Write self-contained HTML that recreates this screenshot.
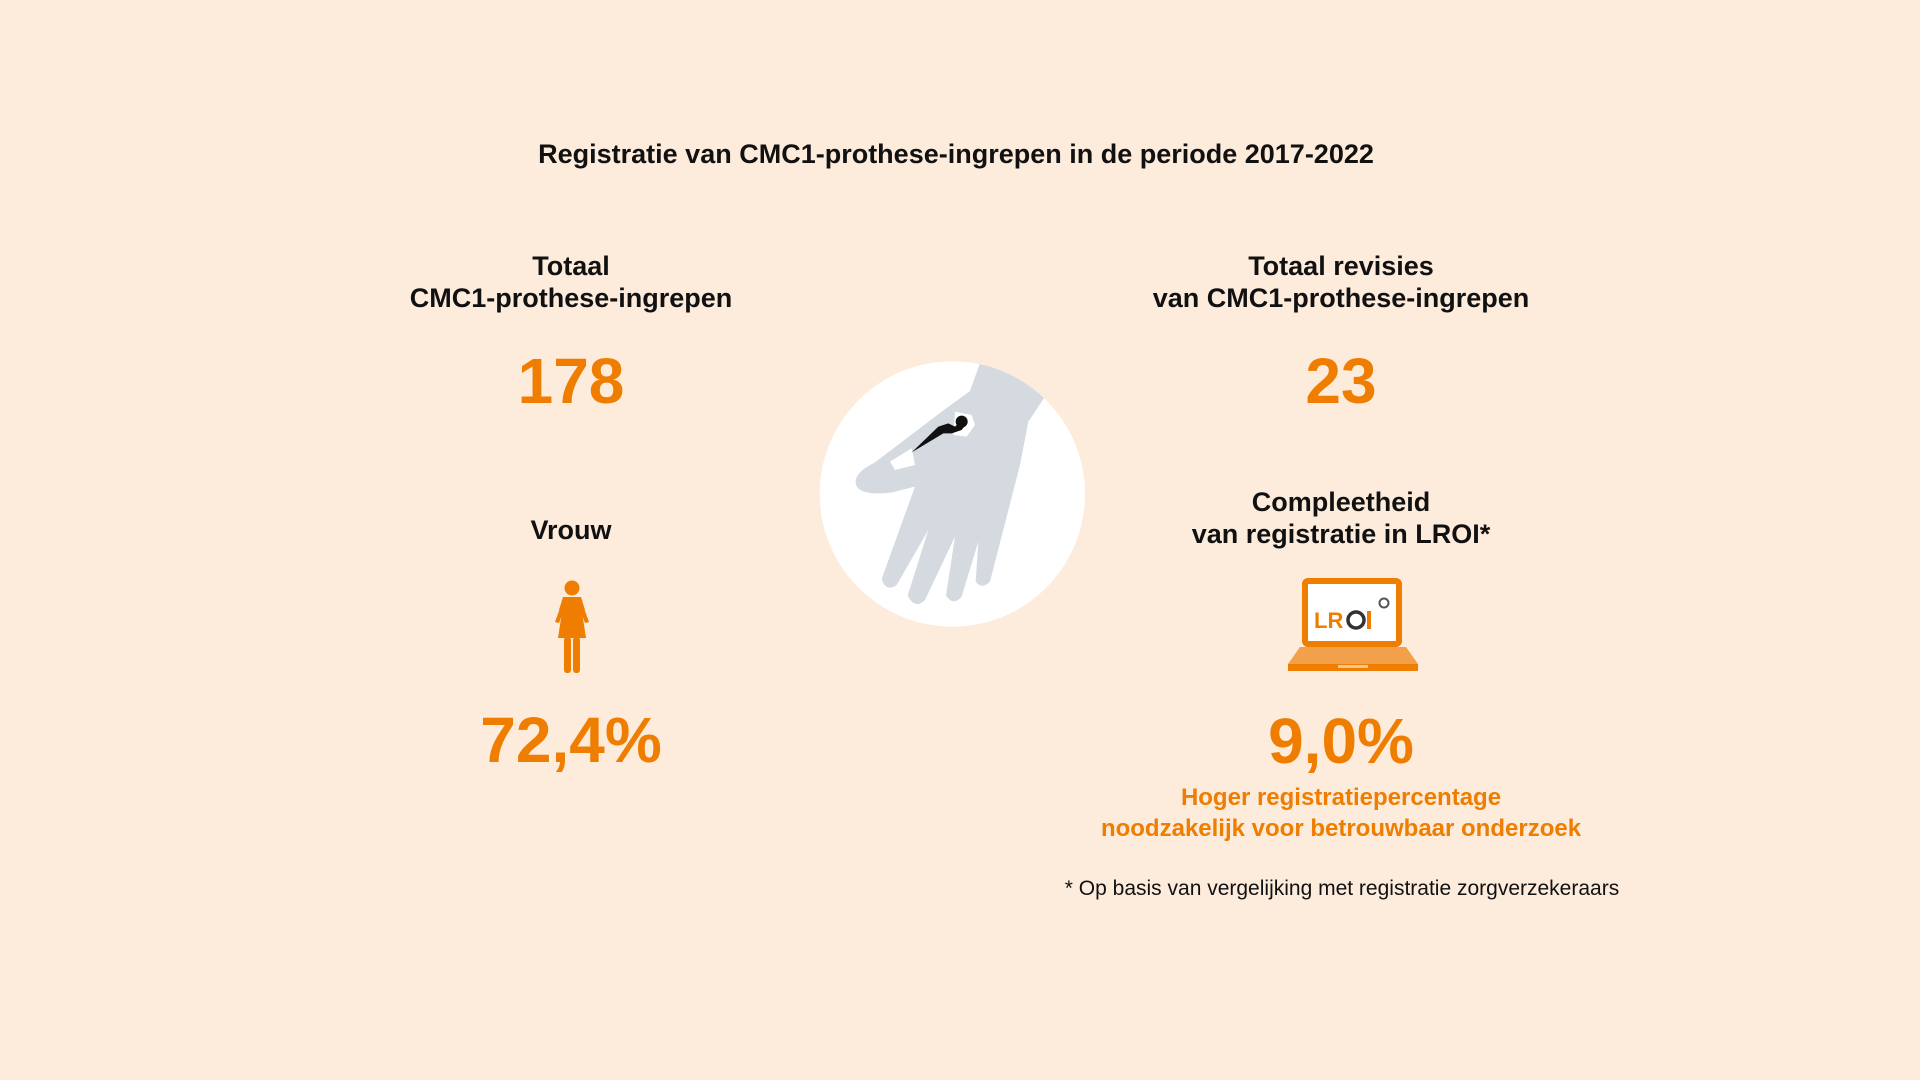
<!DOCTYPE html>
<html><head><meta charset="utf-8"><style>
body{margin:0;width:1920px;height:1080px;background:#fdebdc;font-family:"Liberation Sans",sans-serif;overflow:hidden;position:relative;color:#111}
.t{position:absolute;transform:translateX(-50%);white-space:nowrap;text-align:center;font-weight:bold}
.h{font-size:27px;line-height:32px}
.n{font-size:64px;color:#ef7d00;line-height:70px}
</style></head><body>
<div class="t" style="left:956px;top:139px;font-size:27px">Registratie van CMC1-prothese-ingrepen in de periode 2017-2022</div>

<div class="t h" style="left:571px;top:250px">Totaal<br>CMC1-prothese-ingrepen</div>
<div class="t n" style="left:571px;top:346px">178</div>
<div class="t h" style="left:571px;top:514px">Vrouw</div>
<svg style="position:absolute;left:548px;top:580px" width="48" height="93" viewBox="0 0 48 93">
<circle cx="24" cy="8" r="7.5" fill="#ef7d00"/>
<path d="M15,17 H33 L37,30 L34,32 L38,58 H10 L14,32 L11,30 Z" fill="#ef7d00"/>
<path d="M15,20 L7,42 L11,43 L18,24 Z M33,20 L41,42 L37,43 L30,24 Z" fill="#ef7d00"/>
<rect x="16" y="57" width="7" height="36" rx="3" fill="#ef7d00"/>
<rect x="25" y="57" width="7" height="36" rx="3" fill="#ef7d00"/>
</svg>
<div class="t n" style="left:571px;top:705px">72,4%</div>

<svg style="position:absolute;left:815px;top:355px" width="280" height="280" viewBox="0 0 840 840">
<defs><clipPath id="c"><circle cx="412" cy="417" r="398"/></clipPath></defs>
<circle cx="412" cy="417" r="398" fill="#fff"/>
<g clip-path="url(#c)">
<path d="M500,10 L700,110 L640,200 L615,330 L525,680 Q500,705 482,680 L490,560 L440,725 Q415,755 393,722 L420,545 L330,735 Q300,765 278,722 L340,525 L245,690 Q212,712 200,672 L300,395 L232,412 Q130,425 122,385 Q118,352 180,322 L380,170 L465,108 Z" fill="#d4dae0"/>
</g>
<path d="M225,320 L290,280 L300,330 L240,345 Z" fill="#fff"/>
<path d="M420,170 L470,180 L480,210 L455,245 L415,240 Z" fill="#fff"/>
<path d="M290,292 L370,215 L400,205 L420,215 L440,195 L455,205 L440,225 L410,235 L385,235 Z" fill="#111"/>
<circle cx="440" cy="200" r="18" fill="#111"/>
</svg>

<div class="t h" style="left:1341px;top:250px">Totaal revisies<br>van CMC1-prothese-ingrepen</div>
<div class="t n" style="left:1341px;top:346px">23</div>
<div class="t h" style="left:1341px;top:486px">Compleetheid<br>van registratie in LROI*</div>
<svg style="position:absolute;left:1286px;top:578px" width="134" height="96" viewBox="0 0 134 96">
<rect x="19" y="3" width="94" height="63" rx="3" fill="#fff" stroke="#ef7d00" stroke-width="6"/>
<path d="M14,69 H120 L132,86 H2 Z" fill="#f2a04a"/>
<rect x="2" y="86" width="130" height="7" fill="#ef7d00"/>
<rect x="52" y="87" width="30" height="3" fill="#f7c48a"/>
<text x="28" y="50" font-family="Liberation Sans,sans-serif" font-weight="bold" font-size="22" fill="#ef7d00">LR</text>
<circle cx="70" cy="42" r="8" fill="none" stroke="#333" stroke-width="3.5"/>
<rect x="81" y="33" width="4" height="18" fill="#ef7d00"/>
<circle cx="98" cy="25" r="4.5" fill="none" stroke="#555" stroke-width="2"/>
</svg>
<div class="t n" style="left:1341px;top:706px">9,0%</div>
<div class="t" style="left:1341px;top:782px;font-size:24px;line-height:31px;color:#ef7d00">Hoger registratiepercentage<br>noodzakelijk voor betrouwbaar onderzoek</div>
<div class="t" style="left:1342px;top:877px;font-size:21px;font-weight:normal">* Op basis van vergelijking met registratie zorgverzekeraars</div>
</body></html>
